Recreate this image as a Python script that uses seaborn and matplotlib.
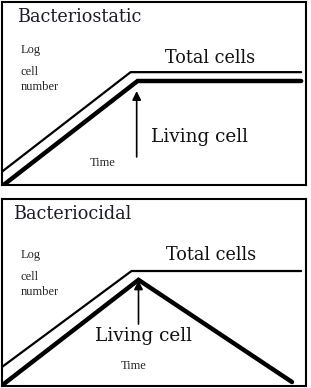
import matplotlib
matplotlib.use("Agg")
import matplotlib.pyplot as plt
import seaborn as sns
import pandas as pd

# schematic growth curves (time, log cell number), arbitrary units
static_time = [-0.1, 4.23, 9.84]
static_total = [0.36, 3.70, 3.70]
static_living_time = [0.05, 4.46, 9.84]
static_living = [0.0, 3.41, 3.41]

cidal_time = [-0.1, 4.26, 9.84]
cidal_total = [0.55, 3.77, 3.77]
cidal_living_time = [0.05, 4.49, 9.54]
cidal_living = [0.06, 3.48, 0.13]

# arrows marking the moment the antibiotic acts (x, y_start, y_end)
static_arrow = (4.43, 0.92, 3.08)
cidal_arrow = (4.49, 2.03, 3.46)

BIG = ["DejaVu Serif"]
SMALL = ["Liberation Serif", "DejaVu Serif"]


def draw_panel(ax, title, t_total, total, t_living, living, arrow,
               ylim, title_xy, total_xy, living_xy, time_xy, log_y):
    df_total = pd.DataFrame({"Time": t_total, "Log": total})
    df_living = pd.DataFrame({"Time": t_living, "Log": living})
    sns.lineplot(data=df_total, x="Time", y="Log", ax=ax, color="black",
                 linewidth=1.6, sort=False, solid_joinstyle="miter")
    sns.lineplot(data=df_living, x="Time", y="Log", ax=ax, color="black",
                 linewidth=3.2, sort=False, solid_joinstyle="miter")
    ax.set_xlim(0, 10)
    ax.set_ylim(0, ylim)
    ax.set_xticks([])
    ax.set_yticks([])
    ax.set_xlabel("")
    ax.set_ylabel("")
    for s in ax.spines.values():
        s.set_linewidth(1.5)
        s.set_color("black")

    ax.annotate("", xy=(arrow[0], arrow[2]), xytext=(arrow[0], arrow[1]),
                arrowprops=dict(arrowstyle="-|>", color="black", lw=1.2,
                                mutation_scale=13, shrinkA=0, shrinkB=0))

    ax.text(*title_xy, title, fontsize=12.7, family=BIG, va="center",
            ha="left", color="#1c1c2c")
    ax.text(*total_xy, "Total cells", fontsize=12.7, family=BIG,
            va="center", ha="left", color="#111111")
    ax.text(*living_xy, "Living cell", fontsize=13.3, family=BIG,
            va="center", ha="left", color="#111111")
    ax.text(*time_xy, "Time", fontsize=9, family=SMALL, va="center",
            ha="left")
    ax.text(0.6, log_y[0], "Log", fontsize=9, family=SMALL, va="center")
    ax.text(0.6, log_y[1], "cell", fontsize=9, family=SMALL, va="center")
    ax.text(0.6, log_y[2], "number", fontsize=9, family=SMALL, va="center")


sns.set_theme(style="white")
fig = plt.figure(figsize=(3.11, 3.88), dpi=100)
fig.patch.set_facecolor("white")

ax1 = fig.add_axes([2 / 311, (388 - 185) / 388, 304 / 311, 183 / 388])
ax2 = fig.add_axes([2 / 311, 2 / 388, 304 / 311, 187 / 388])

draw_panel(ax1, "Bacteriostatic", static_time, static_total,
           static_living_time, static_living, static_arrow,
           183 / 30.5, (0.5, 5.5), (5.35, 4.17), (4.9, 1.58), (2.9, 0.72),
           (4.43, 3.7, 3.22))
draw_panel(ax2, "Bacteriocidal", cidal_time, cidal_total,
           cidal_living_time, cidal_living, cidal_arrow,
           187 / 30.5, (0.37, 5.64), (5.4, 4.3), (3.05, 1.64), (3.9, 0.66),
           (4.3, 3.58, 3.09))

fig.savefig("out.png", dpi=100, facecolor="white")
